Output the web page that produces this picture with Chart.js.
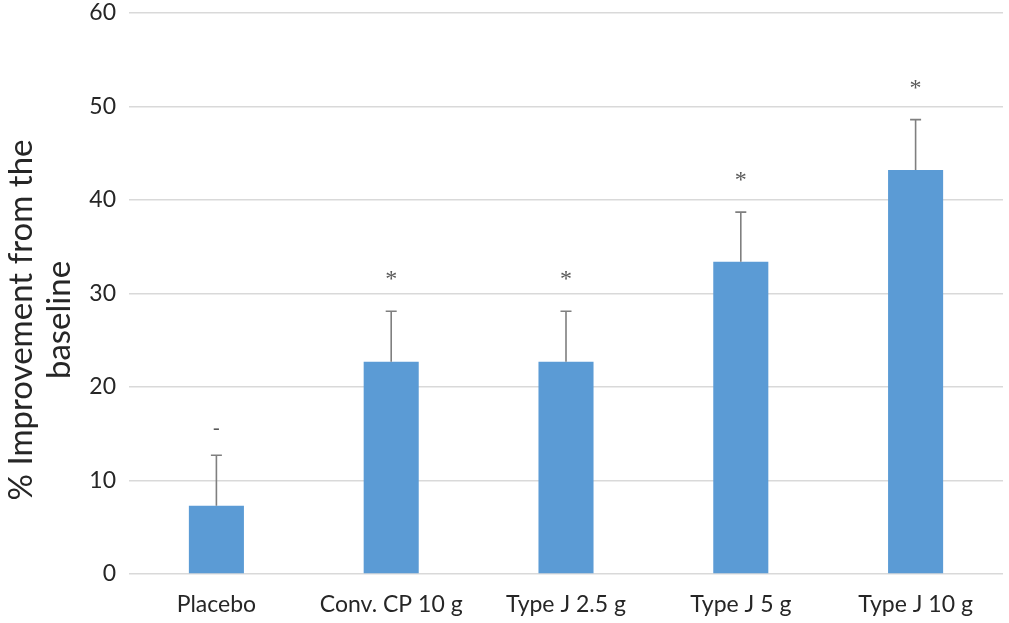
<!DOCTYPE html>
<html>
<head>
<meta charset="utf-8">
<script src="https://cdn.jsdelivr.net/npm/chart.js@4"></script>
<style>
  html, body { margin: 0; padding: 0; background: #fff; }
  #wrap { width: 1009px; height: 623px; position: relative; }
</style>
</head>
<body>
<div id="wrap"><canvas id="chart"></canvas></div>
<script>
// data
const categories = ['Placebo', 'Conv. CP 10 g', 'Type J 2.5 g', 'Type J 5 g', 'Type J 10 g'];
const improvement = [7.3, 22.7, 22.7, 33.4, 43.2];
const errUpper = [5.4, 5.4, 5.4, 5.3, 5.4];
const marks = ['-', '*', '*', '*', '*'];
const yTicks = [0, 10, 20, 30, 40, 50, 60];
const yTitle = ['% Improvement from the', 'baseline'];

// error bars + significance marks, drawn through the scales
const errorBars = {
  id: 'errorBars',
  afterDatasetsDraw(chart) {
    const ctx = chart.ctx;
    const y = chart.scales.y;
    const meta = chart.getDatasetMeta(0);
    ctx.save();
    meta.data.forEach((bar, i) => {
      const top = y.getPixelForValue(improvement[i] + errUpper[i]);
      const base = y.getPixelForValue(improvement[i]);
      ctx.strokeStyle = '#7f7f7f';
      ctx.lineWidth = 1.6;
      ctx.beginPath();
      ctx.moveTo(bar.x, base);
      ctx.lineTo(bar.x, top);
      ctx.moveTo(bar.x - 5.5, top);
      ctx.lineTo(bar.x + 5.5, top);
      ctx.stroke();
      ctx.fillStyle = '#595959';
      ctx.textAlign = 'center';
      ctx.textBaseline = 'alphabetic';
      if (marks[i] === '*') {
        ctx.font = '24px "Liberation Serif"';
        ctx.fillText(marks[i], bar.x, top - 25);
      } else {
        ctx.font = '20px "Liberation Serif"';
        ctx.fillText(marks[i], bar.x, top - 21);
      }
    });
    ctx.restore();
  }
};

// y title, two lines, rotated
const yTitlePlugin = {
  id: 'yTitle',
  afterDraw(chart) {
    const ctx = chart.ctx;
    ctx.save();
    ctx.translate(0, 320);
    ctx.rotate(-Math.PI / 2);
    ctx.fillStyle = '#262626';
    ctx.font = '33px Lato';
    ctx.textAlign = 'center';
    ctx.textBaseline = 'middle';
    yTitle.forEach((t, i) => ctx.fillText(t, 0, 21 + i * 38));
    ctx.restore();
  }
};

new Chart(document.getElementById('chart').getContext('2d'), {
  type: 'bar',
  data: {
    labels: categories,
    datasets: [{
      data: improvement,
      backgroundColor: '#5b9bd5',
      borderWidth: 0,
      barPercentage: 0.315,
      categoryPercentage: 1
    }]
  },
  options: {
    responsive: true,
    maintainAspectRatio: false,
    animation: false,
    layout: { padding: { top: 13, right: 6, left: 0, bottom: 0 } },
    plugins: { legend: { display: false }, tooltip: { enabled: false } },
    scales: {
      x: {
        grid: { display: false, drawTicks: false },
        border: { display: false },
        ticks: { color: '#262626', font: { family: 'Lato', size: 23 }, padding: 17 },
        afterFit: s => { s.height = 49; s.paddingLeft = 0; s.paddingRight = 0; }
      },
      y: {
        min: 0, max: 60,
        afterBuildTicks: s => { s.ticks = yTicks.map(v => ({ value: v })); },
        grid: { color: '#d9d9d9', lineWidth: 1.5, drawTicks: false },
        border: { display: false },
        ticks: { color: '#262626', font: { family: 'Lato', size: 23 }, padding: 13 },
        afterFit: s => { s.width = 129; s.paddingTop = 0; s.paddingBottom = 0; }
      }
    }
  },
  plugins: [errorBars, yTitlePlugin]
});
</script>
</body>
</html>
